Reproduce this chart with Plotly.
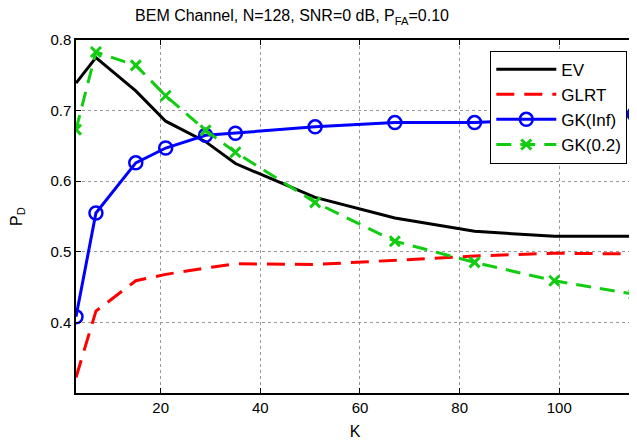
import plotly.graph_objects as go

K = [3, 7, 15, 21, 29, 35, 51, 67, 83, 99, 115]
ev = [0.739, 0.775, 0.728, 0.685, 0.656, 0.625, 0.577, 0.548, 0.529, 0.522, 0.522]
glrt = [0.322, 0.416, 0.459, 0.468, 0.477, 0.483, 0.482, 0.488, 0.494, 0.498, 0.497]
gk_inf = [0.408, 0.555, 0.626, 0.647, 0.665, 0.668, 0.677, 0.683, 0.683, 0.688, 0.695]
gk_02 = [0.673, 0.783, 0.764, 0.721, 0.672, 0.641, 0.570, 0.515, 0.485, 0.459, 0.440]

x_ticks = [20, 40, 60, 80, 100]
y_ticks = [0.4, 0.5, 0.6, 0.7, 0.8]

FONT = "Liberation Sans, Arial"
GREEN = "#11cc11"
fig = go.Figure()
fig.add_trace(go.Scatter(x=K, y=ev, name="EV", mode="lines",
                         line=dict(color="black", width=3)))
fig.add_trace(go.Scatter(x=K, y=glrt, name="GLRT", mode="lines",
                         line=dict(color="#ff0000", width=3, dash="18px,10px")))
fig.add_trace(go.Scatter(x=K, y=gk_inf, name="GK(Inf)", mode="lines+markers",
                         line=dict(color="#0000ff", width=3),
                         marker=dict(symbol="circle-open", size=13, color="#0000ff",
                                     line=dict(width=2.5, color="#0000ff"))))
fig.add_trace(go.Scatter(x=K, y=gk_02, name="GK(0.2)", mode="lines+markers",
                         line=dict(color=GREEN, width=3, dash="15px,9px"),
                         marker=dict(symbol="x-thin-open", size=10, color=GREEN,
                                     line=dict(width=3, color=GREEN))))

axis_common = dict(showline=True, linecolor="black", linewidth=1.5, mirror="ticks",
                   ticks="inside", ticklen=5, tickcolor="black",
                   showgrid=True, gridcolor="#999999", griddash="dot", gridwidth=1,
                   zeroline=False,
                   tickfont=dict(family=FONT, size=15, color="black"))

fig.update_xaxes(range=[3, 115], tickvals=x_ticks, **axis_common,
                 title=dict(text="K", font=dict(family=FONT, size=16, color="black"),
                            standoff=11))
fig.update_yaxes(range=[0.3, 0.8], tickvals=y_ticks, tickformat=".1f", **axis_common,
                 title=dict(text="P<sub>D</sub>", font=dict(family=FONT, size=16, color="black"),
                            standoff=24))

fig.update_layout(
    width=629, height=438,
    margin=dict(l=68, r=1, t=32, b=53),
    paper_bgcolor="white", plot_bgcolor="white",
    title=dict(text="BEM Channel, N=128, SNR=0 dB, P<sub>FA</sub>=0.10",
               x=0.4515, xanchor="center", y=0.995, yanchor="top",
               font=dict(family=FONT, size=16, color="black")),
    legend=dict(x=0.988, y=0.97, xanchor="right", yanchor="top",
                bgcolor="white", bordercolor="black", borderwidth=1,
                font=dict(family=FONT, size=17, color="black"),
                itemwidth=60, tracegroupgap=0),
    showlegend=True,
)

fig.write_html("out.html")
